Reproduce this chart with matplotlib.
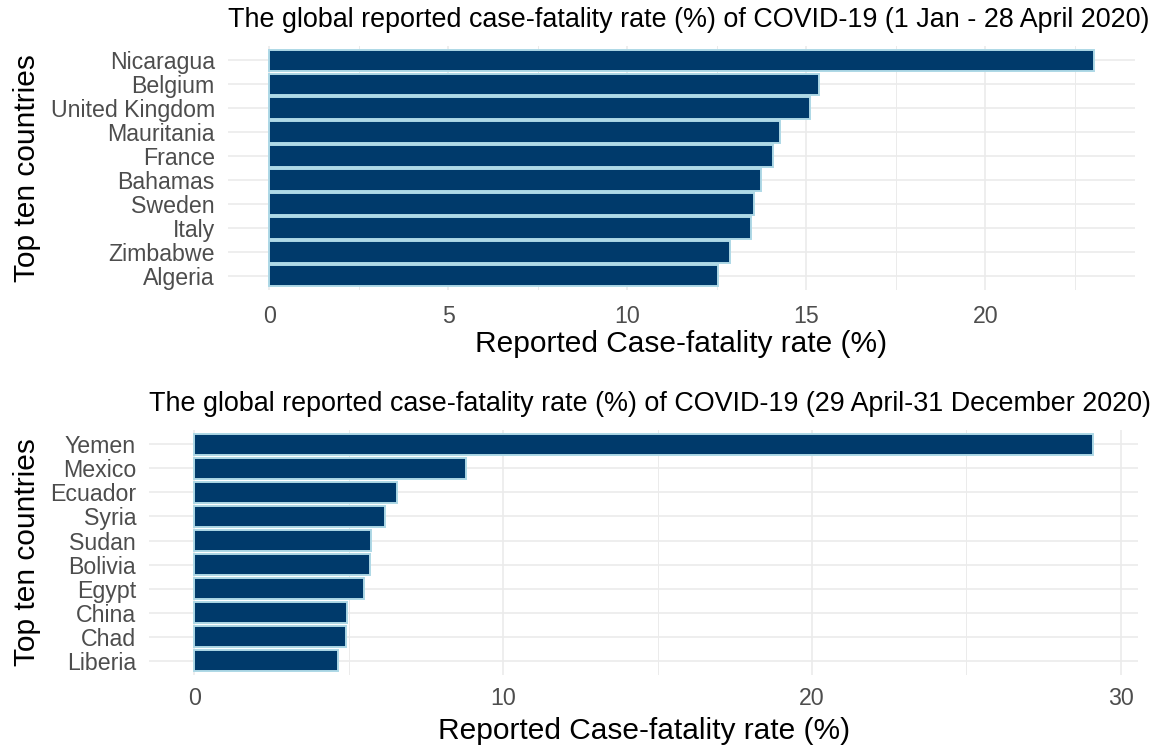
import numpy as np
import matplotlib.pyplot as plt
import matplotlib.transforms as mtransforms
from matplotlib.ticker import MultipleLocator

plt.rcParams['font.family'] = ['Liberation Sans', 'DejaVu Sans']

# first period: 1 Jan - 28 April 2020
countries_1 = ['Nicaragua', 'Belgium', 'United Kingdom', 'Mauritania', 'France',
               'Bahamas', 'Sweden', 'Italy', 'Zimbabwe', 'Algeria']
cfr_1 = [23.03, 15.36, 15.11, 14.27, 14.06, 13.73, 13.53, 13.46, 12.88, 12.54]

# second period: 29 April - 31 December 2020
countries_2 = ['Yemen', 'Mexico', 'Ecuador', 'Syria', 'Sudan',
               'Bolivia', 'Egypt', 'China', 'Chad', 'Liberia']
cfr_2 = [29.1, 8.79, 6.57, 6.19, 5.73, 5.69, 5.50, 4.95, 4.90, 4.64]

titles = ['The global reported case-fatality rate (%) of COVID-19 (1 Jan - 28 April 2020)',
          'The global reported case-fatality rate (%) of COVID-19 (29 April-31 December 2020)']

fig = plt.figure(figsize=(11.59, 7.51), dpi=100)
ax1 = fig.add_axes([0.1967, 0.6138, 0.9793 - 0.1967, 0.9387 - 0.6138])
ax2 = fig.add_axes([0.1288, 0.1012, 0.9819 - 0.1288, 0.4274 - 0.1012])

# (axes, names, values, title, major step, minor step, x tick pad, xlabel pad)
panels = [(ax1, countries_1, cfr_1, titles[0], 5, 2.5, 11, 1.5),
          (ax2, countries_2, cfr_2, titles[1], 10, 5, 9, 4.5)]

for ax, names, vals, title, major, minor, xpad, lpad in panels:
    n = len(names)
    ypos = np.arange(n)[::-1]
    ax.barh(ypos, vals, height=0.9, color='#003A6B', edgecolor='#ADD8E6',
            linewidth=1.4, zorder=3)
    span = max(vals)
    ax.set_xlim(-0.05 * span, span * 1.05)
    ax.set_ylim(-0.6, n - 0.4)
    ax.set_yticks(ypos)
    ax.set_yticklabels(names)
    ax.xaxis.set_major_locator(MultipleLocator(major))
    ax.xaxis.set_minor_locator(MultipleLocator(minor))
    ax.grid(which='major', color='#EBEBEB', linewidth=1.2, zorder=0)
    ax.grid(which='minor', axis='x', color='#EBEBEB', linewidth=0.7, zorder=0)
    ax.set_axisbelow(True)
    for s in ax.spines.values():
        s.set_visible(False)
    ax.tick_params(which='both', length=0, labelsize=16.7, colors='#4D4D4D')
    ax.tick_params(axis='y', pad=9.5)
    ax.tick_params(axis='x', pad=xpad)
    ax.set_xlabel('Reported Case-fatality rate (%)', fontsize=21.5, color='black', labelpad=lpad)
    ax.set_ylabel('Top ten countries', fontsize=21.5, color='black')
    ax.yaxis.set_label_coords(41 / 1159, 0.5,
                              transform=mtransforms.blended_transform_factory(fig.transFigure, ax.transAxes))
    ax.set_title(title, fontsize=19.4, loc='left', color='black', pad=14)

fig.savefig('out.png', dpi=100)
